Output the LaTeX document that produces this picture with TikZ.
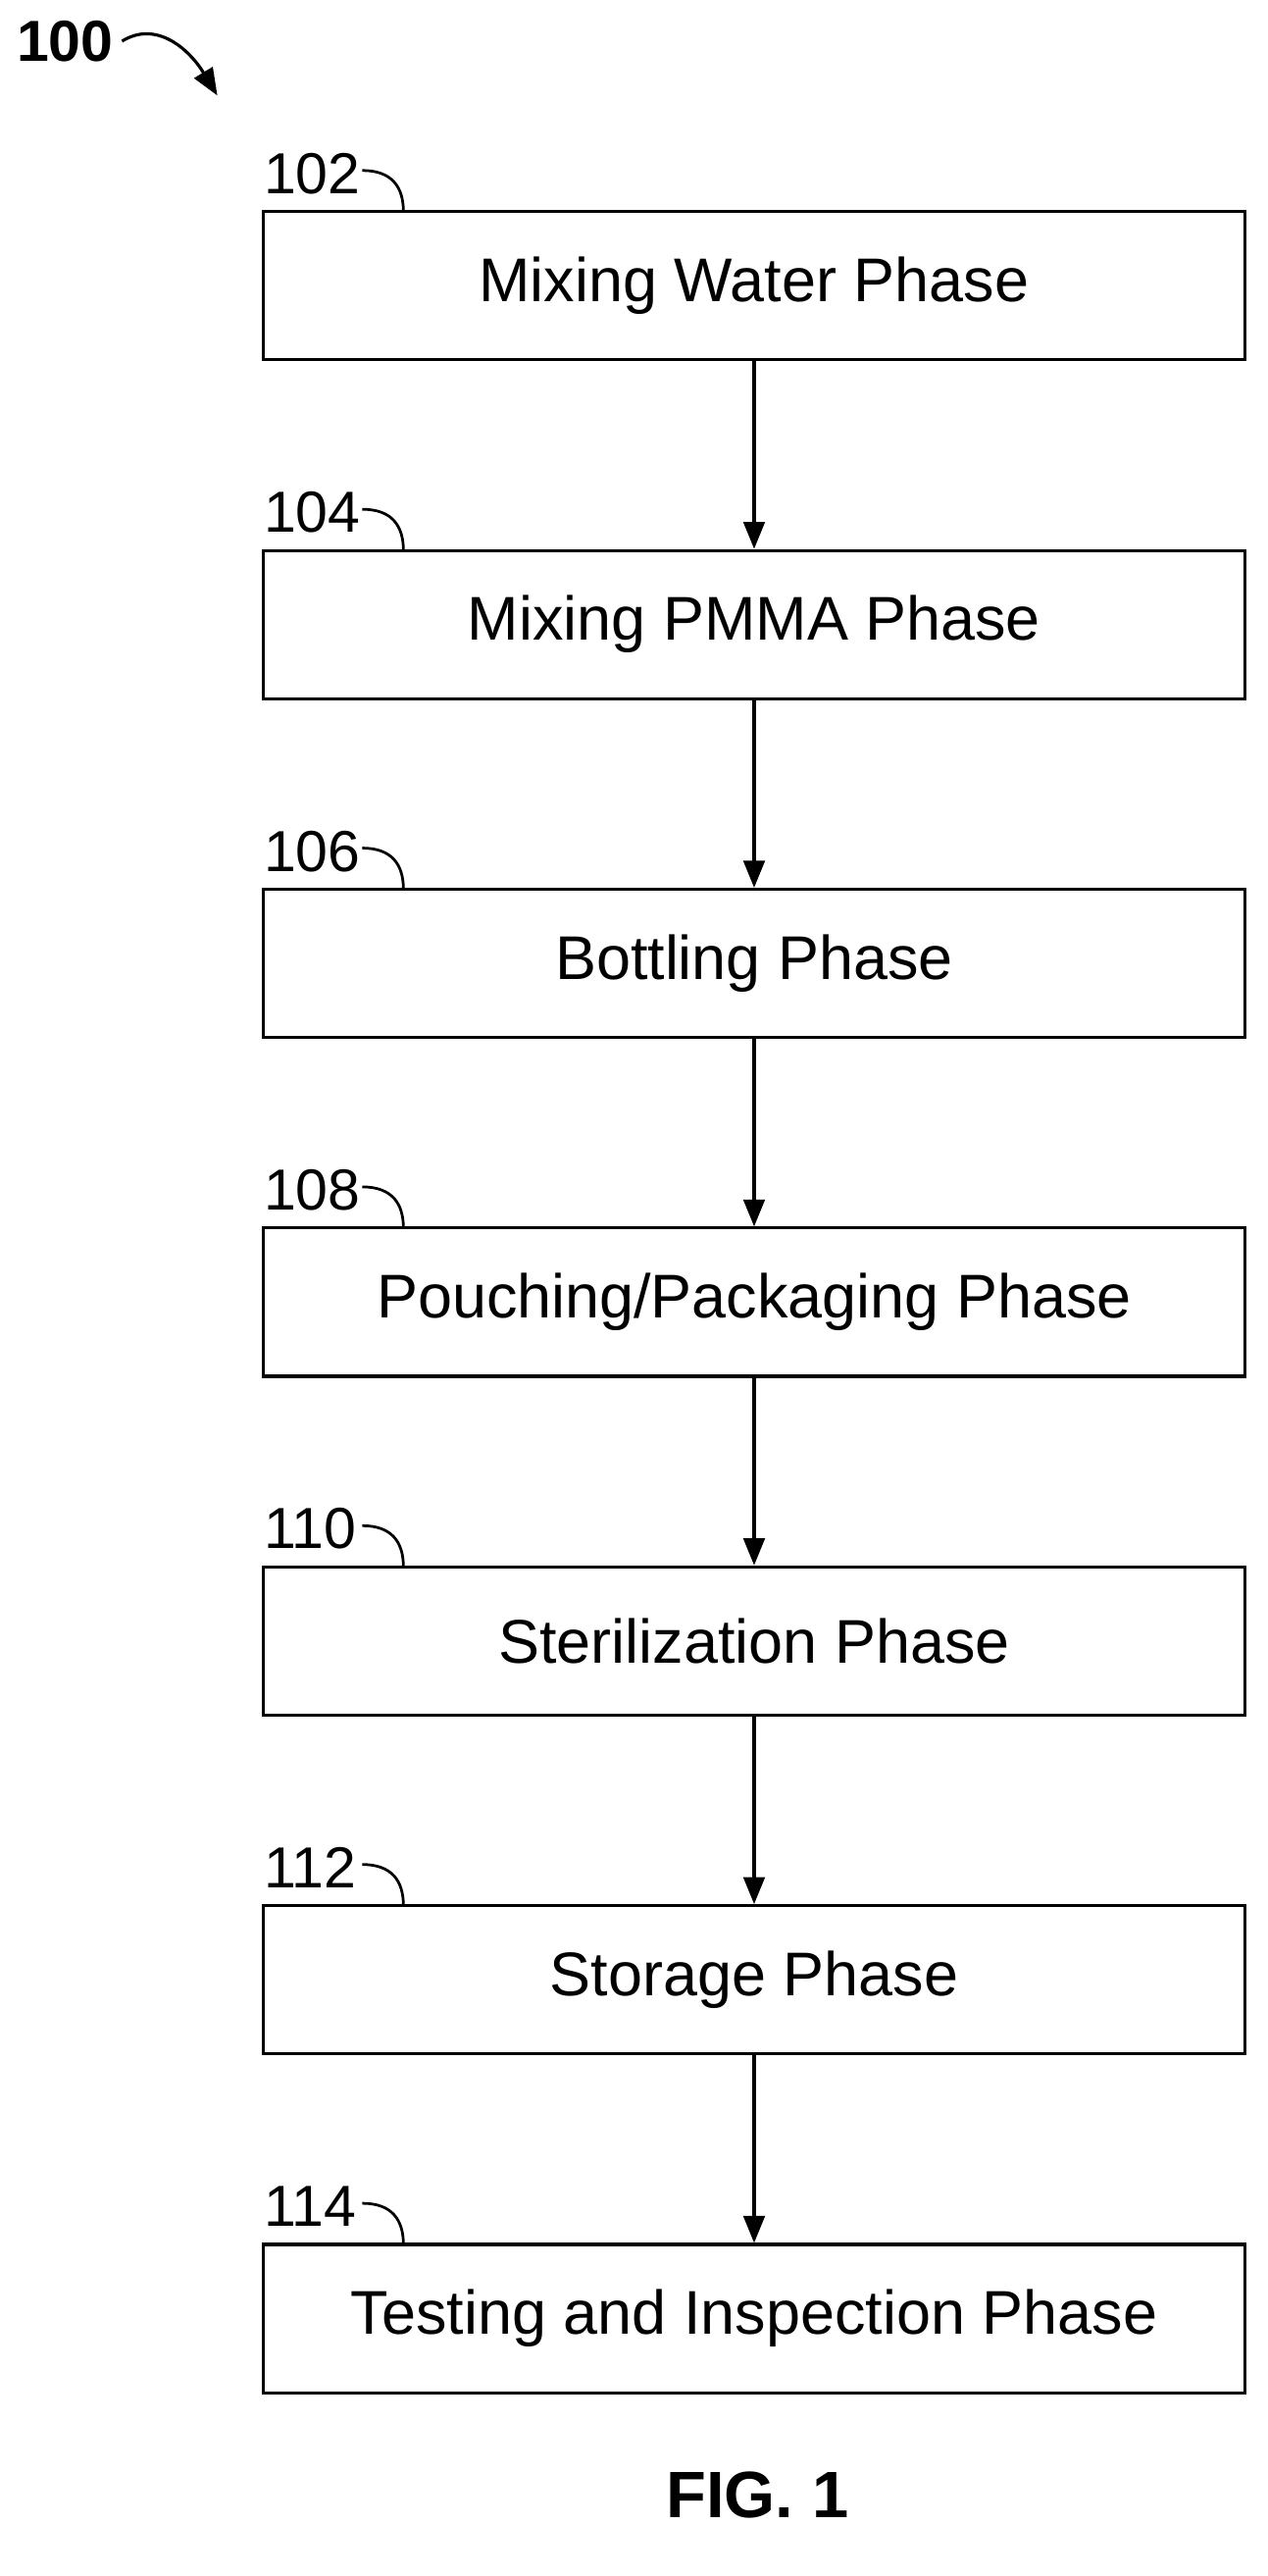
\documentclass[tikz,border=0pt]{standalone}
\usepackage{fontspec}
\setmainfont{Liberation Sans}
\usetikzlibrary{arrows.meta}
\begin{document}
\begin{tikzpicture}[x=0.03cm,y=-0.03cm,
  box/.style={draw,line width=1.6pt,minimum width=596*0.03cm,minimum height=90*0.03cm,inner sep=0pt,font=\fontsize{32}{36}\selectfont},
  lab/.style={anchor=west,inner sep=0pt,font=\fontsize{30}{34}\selectfont},
  arr/.style={line width=1.6pt,-{Triangle[length=14pt,width=11pt]}},
  lead/.style={line width=1.4pt}]
\useasboundingbox (0,0) rectangle (770,1564);
\foreach \i/\n/\t in {0/102/{Mixing Water Phase},1/104/{Mixing PMMA Phase},2/106/{Bottling Phase},3/108/{Pouching/Packaging Phase},4/110/{Sterilization Phase},5/112/{Storage Phase},6/114/{Testing and Inspection Phase}}{
  \pgfmathsetmacro{\y}{173.5+205.7*\i}
  \node[box] (b\i) at (458,\y) {\t};
  \node[lab] (l\i) at (160,\y-68) {\n};
  \draw[lead] (220,\y-70) .. controls (238,\y-70) and (245,\y-60) .. (245,\y-45);
}
\foreach \i [evaluate=\i as \j using int(\i+1)] in {0,...,5}{
  \draw[arr] (b\i.south) -- (b\j.north);
}
\node[anchor=west,inner sep=0pt,font=\fontsize{30}{34}\selectfont\bfseries] (n100) at (10,25) {100};
\draw[line width=1.6pt,-{Triangle[length=14pt,width=11pt]}] (n100.east)+(5,0) .. controls (95,12) and (115,30) .. (132,58);
\node[font=\fontsize{34}{38}\selectfont\bfseries] (fig) at (460,1515) {FIG. 1};
\end{tikzpicture}
\end{document}
